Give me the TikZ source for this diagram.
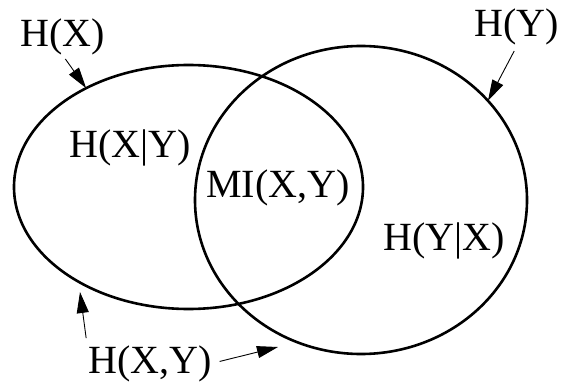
\documentclass[tikz,border=0pt]{standalone}
\usepackage{fontspec}
\setmainfont{Liberation Serif}
\usetikzlibrary{arrows.meta,shapes.geometric}

\begin{document}
\begin{tikzpicture}[
  x=1pt, y=-1pt,
  set/.style={draw, ellipse, line width=2.6pt, inner sep=0pt, outer sep=0pt},
  lbl/.style={inner sep=0pt, anchor=base, font=\fontsize{40}{48}\selectfont},
  arr/.style={-{Triangle[length=21pt,width=12pt]}, line width=0.9pt}
]
\useasboundingbox (0,0) rectangle (562,382);
% Entropy sets
\node[set, minimum width=349pt, minimum height=244pt] (hx) at (188.5,187) {};
\node[set, minimum width=332pt, minimum height=308pt] (hy) at (361,200) {};

% Labels
\node[lbl] (lhx) at (63,47) {H(X)};
\node[lbl] (lhy) at (517,37) {H(Y)};
\node[lbl] (lhxgy) at (130,158) {H(X|Y)};
\node[lbl] (lmi) at (278,197) {MI(X,Y)};
\node[lbl] (lhygx) at (444,250) {H(Y|X)};
\node[lbl] (lhxy) at (150,373) {H(X,Y)};

% Pointers
\coordinate (uxl) at (80,292);
\coordinate (uxr) at (278,347);
\draw[arr, shorten <=4pt] (lhx.south) -- (hx.136);
\draw[arr, shorten <=6pt] (lhy.south) -- (hy.38);
\draw[arr] ([xshift=-2pt,yshift=7pt]lhxy.north west) -- (uxl);
\draw[arr, shorten <=8pt] (lhxy.east) -- (uxr);
\end{tikzpicture}
\end{document}
